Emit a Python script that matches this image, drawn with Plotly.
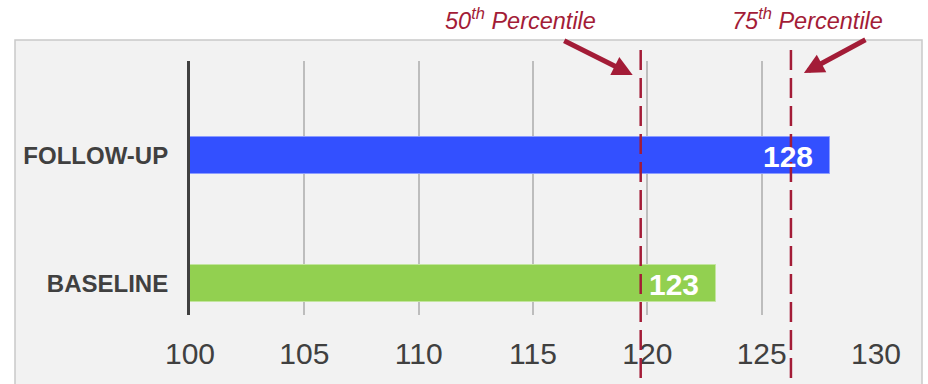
import plotly.graph_objects as go

# ---- data ----
categories = ["BASELINE", "FOLLOW-UP"]
values = [123, 128]
bar_colors = ["#92d050", "#3350ff"]
bar_line_colors = ["#c3e59f", "#8c9cff"]
percentile_labels = ["50<sup>th</sup> Percentile", "75<sup>th</sup> Percentile"]
percentile_values = [119.71, 126.28]
x_ticks = [100, 105, 110, 115, 120, 125, 130]

RED = "#a31c37"
FONT = "Arial, Liberation Sans, sans-serif"

W, H = 928, 384
L, R, T, B = 190, 928 - 876, 61, 384 - 315
pw, ph = W - L - R, H - T - B


def px_to_paper_x(px):
    return (px - L) / pw


def px_to_paper_y(py):
    return (T + ph - py) / ph


fig = go.Figure()
fig.add_trace(go.Bar(
    y=categories, x=values, orientation="h", width=0.29,
    marker=dict(color=bar_colors, line=dict(color=bar_line_colors, width=1)),
    hoverinfo="skip",
))

shapes = [
    dict(type="rect", xref="paper", yref="paper", layer="below",
         x0=px_to_paper_x(15), x1=px_to_paper_x(922),
         y0=px_to_paper_y(400), y1=px_to_paper_y(40),
         fillcolor="#f2f2f2", line=dict(color="#c9c9c9", width=1.5)),
]
for v in percentile_values:
    shapes.append(dict(type="line", xref="x", yref="paper", layer="above",
                       x0=v, x1=v, y0=px_to_paper_y(378), y1=px_to_paper_y(46),
                       line=dict(color=RED, width=2.5, dash="20px,8px")))

annotations = []
for c, v in zip(categories, values):
    annotations.append(dict(x=v, y=c, xref="x", yref="y", text=str(v),
                            showarrow=False, xanchor="right", yanchor="middle",
                            xshift=-15, yshift=-1,
                            font=dict(family=FONT, size=30, color="white", weight="bold")))

label_shift = [-120, 17]
arrow_head_shift = [-8, 13]
arrow_tail = [(-70, -35), (63, -34)]
arrow_head_y = [75, 73]
for lab, v, ls, hs, (ax, ay), hy in zip(percentile_labels, percentile_values,
                                        label_shift, arrow_head_shift, arrow_tail, arrow_head_y):
    annotations.append(dict(x=v, y=px_to_paper_y(19), xref="x", yref="paper",
                            text="<i>" + lab + "</i>", showarrow=False,
                            xanchor="center", yanchor="middle", xshift=ls,
                            borderpad=0,
                            font=dict(family=FONT, size=23.5, color=RED)))
    annotations.append(dict(x=v, y=px_to_paper_y(hy), xref="x", yref="paper",
                            text="", showarrow=True, xshift=hs,
                            ax=ax, ay=ay, axref="pixel", ayref="pixel",
                            arrowhead=2, arrowsize=0.8, arrowwidth=5,
                            arrowcolor=RED, standoff=0))

fig.update_layout(
    width=W, height=H,
    margin=dict(l=L, r=R, t=T, b=B, pad=0),
    paper_bgcolor="white", plot_bgcolor="rgba(0,0,0,0)",
    showlegend=False,
    shapes=shapes, annotations=annotations,
    xaxis=dict(range=[100, 130], tickvals=x_ticks, showgrid=True,
               gridcolor="#bdbdbd", gridwidth=1.5, zeroline=False, showline=False,
               ticks="", ticklabelstandoff=18, fixedrange=True,
               tickfont=dict(family=FONT, size=30, color="#404040")),
    yaxis=dict(range=[-0.246, 1.738], showgrid=False, zeroline=False,
               showline=True, linecolor="#404040", linewidth=3,
               ticks="", ticklabelstandoff=14, fixedrange=True,
               tickfont=dict(family=FONT, size=24, color="#404040", weight="bold")),
    bargap=0,
)

fig.write_html("out.html", config={"displayModeBar": False},
               post_script="document.body.style.margin='0px';")
